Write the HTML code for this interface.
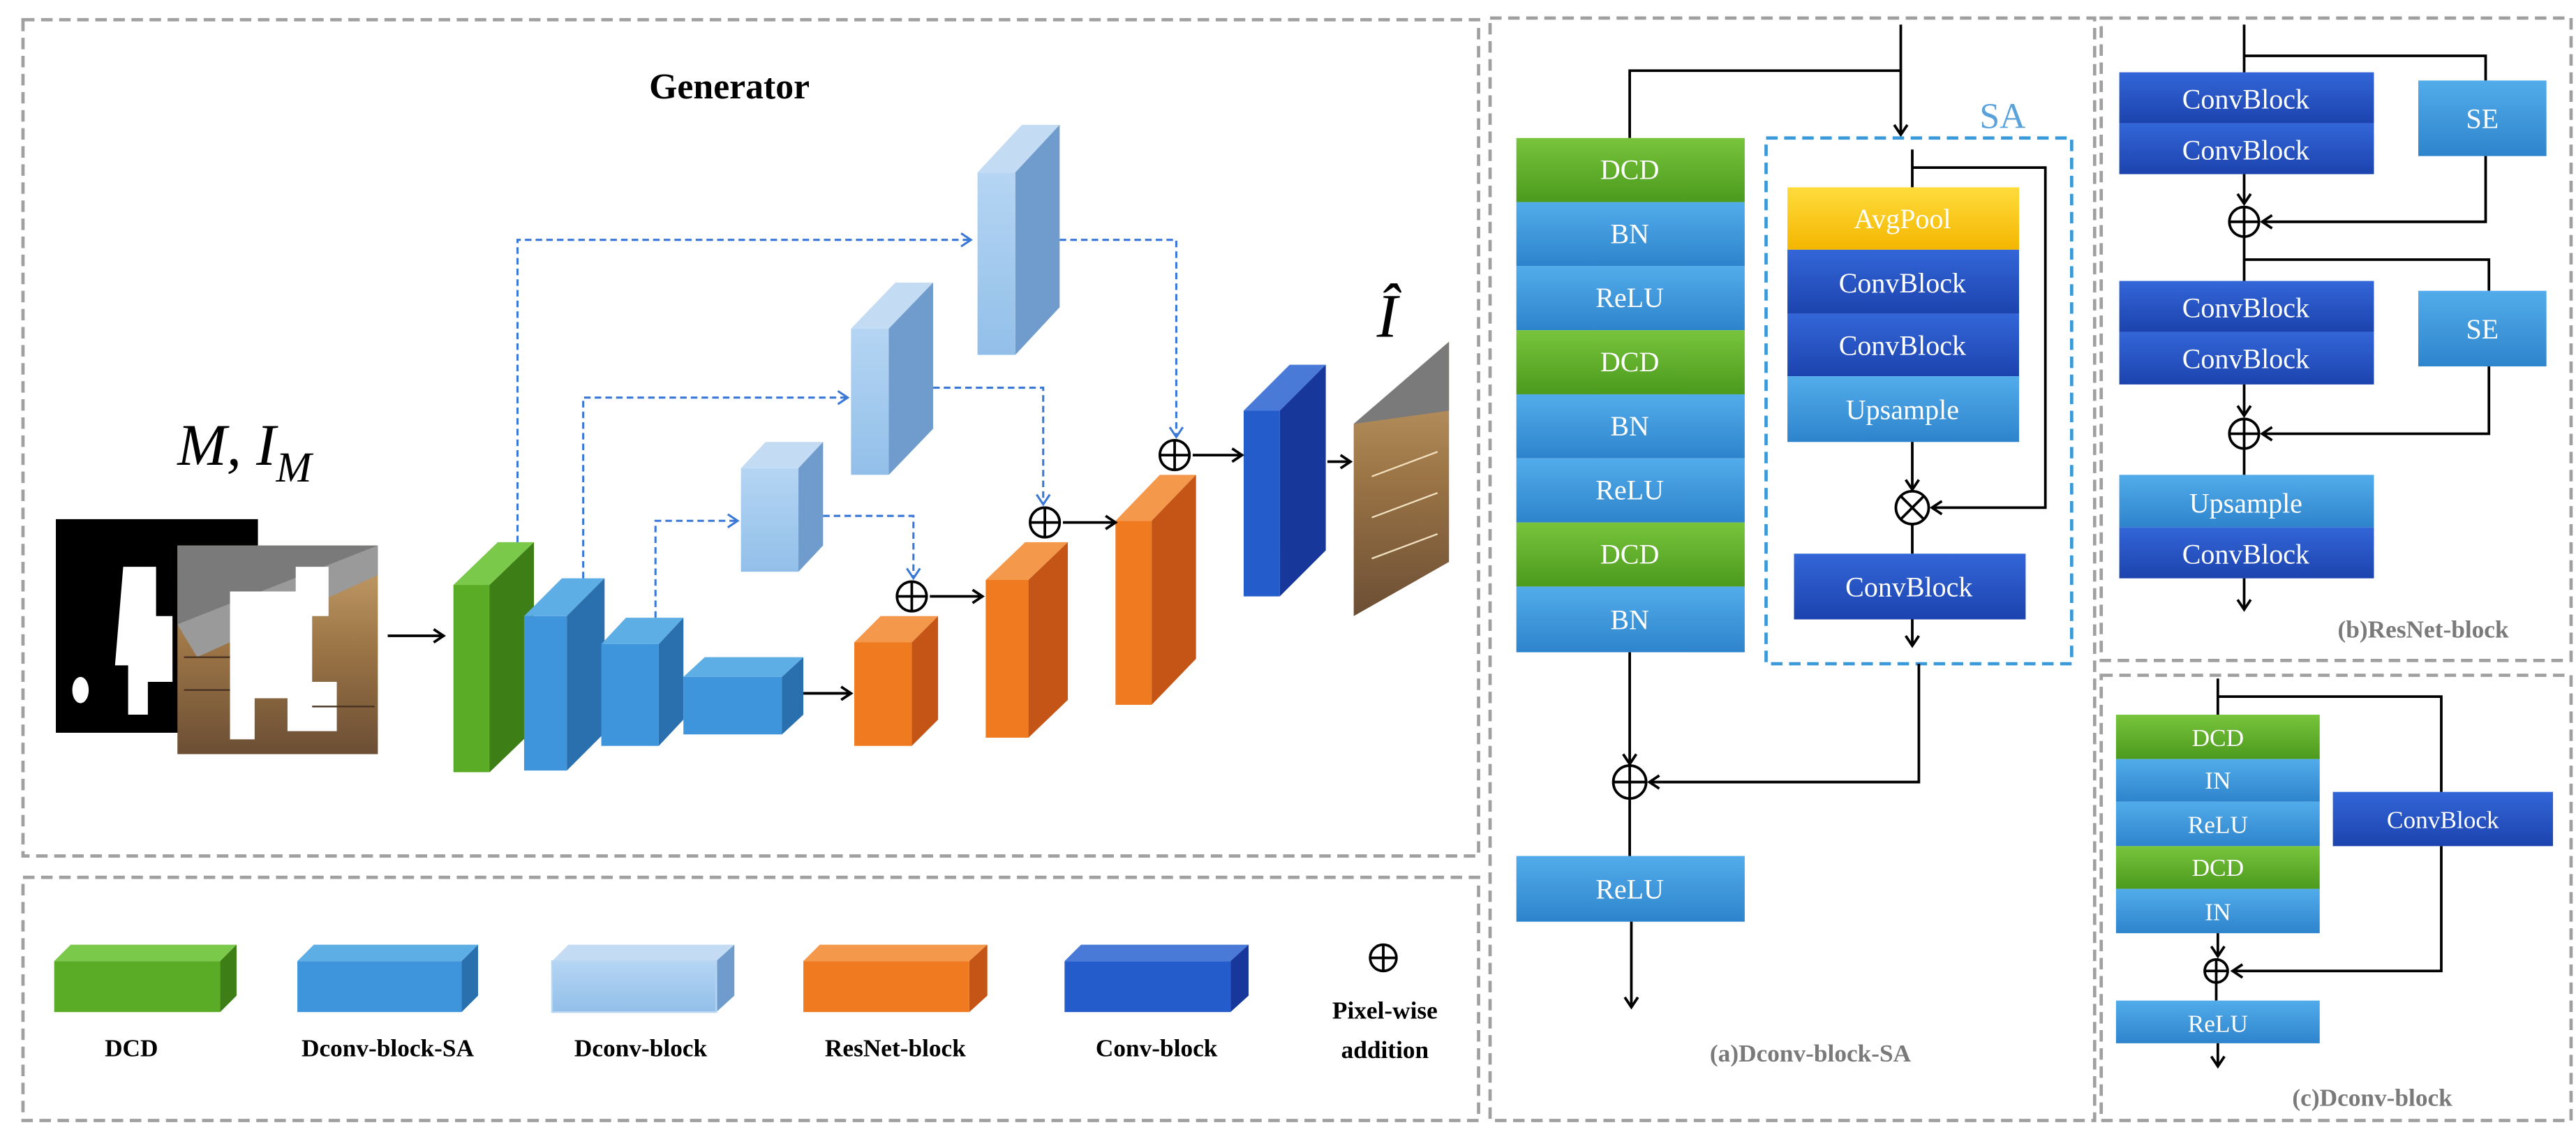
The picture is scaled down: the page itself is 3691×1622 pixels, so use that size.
<!DOCTYPE html>
<html><head><meta charset="utf-8"><style>
html,body{margin:0;padding:0;background:#fff;}
svg{display:block;}
text{font-family:"Liberation Serif",serif;}
.w{fill:#fff;font-size:17px;text-anchor:middle;}
.wc{fill:#fff;font-size:15px;text-anchor:middle;}
.lg{fill:#000;font-size:15px;font-weight:bold;text-anchor:middle;}
.cap{fill:#7a7a7a;font-size:15px;font-weight:bold;text-anchor:middle;}
.ln{stroke:#000;stroke-width:1.6;fill:none;}
.dl{stroke:#3a78d8;stroke-width:1.3;fill:none;stroke-dasharray:4 2.5;}
.box{fill:none;stroke:#a0a0a0;stroke-width:2;stroke-dasharray:7 4;}
</style></head><body>
<svg width="3691" height="1622" viewBox="0 0 1568 689" preserveAspectRatio="none" xmlns="http://www.w3.org/2000/svg">
<defs>
<linearGradient id="gG" x1="0" y1="0" x2="0" y2="1"><stop offset="0" stop-color="#78c43c"/><stop offset="1" stop-color="#4c9a1e"/></linearGradient>
<linearGradient id="gB" x1="0" y1="0" x2="0" y2="1"><stop offset="0" stop-color="#52acea"/><stop offset="1" stop-color="#2e84cc"/></linearGradient>
<linearGradient id="gD" x1="0" y1="0" x2="0" y2="1"><stop offset="0" stop-color="#3366d8"/><stop offset="1" stop-color="#1c43ae"/></linearGradient>
<linearGradient id="gY" x1="0" y1="0" x2="0" y2="1"><stop offset="0" stop-color="#ffdc3c"/><stop offset="1" stop-color="#f4b600"/></linearGradient>
<linearGradient id="gL" x1="0" y1="0" x2="0" y2="1"><stop offset="0" stop-color="#b5d5f3"/><stop offset="1" stop-color="#92bfe9"/></linearGradient>
<linearGradient id="gP" x1="0" y1="0" x2="0" y2="1"><stop offset="0" stop-color="#c8a26c"/><stop offset="0.5" stop-color="#9b7446"/><stop offset="1" stop-color="#6b4e34"/></linearGradient>
<marker id="ak" markerWidth="10" markerHeight="10" refX="7" refY="5" orient="auto" markerUnits="userSpaceOnUse"><path d="M1,1 L7,5 L1,9" fill="none" stroke="#000" stroke-width="1.6"/></marker>
<marker id="ab" markerWidth="10" markerHeight="10" refX="7" refY="5" orient="auto" markerUnits="userSpaceOnUse"><path d="M1,1 L7,5 L1,9" fill="none" stroke="#3a78d8" stroke-width="1.3"/></marker>
</defs>

<rect class="box" x="14" y="12" width="886" height="509"/>
<rect class="box" x="14" y="534" width="886" height="148"/>
<rect class="box" x="907" y="11" width="368" height="671"/>
<rect class="box" x="1279" y="11" width="286" height="391"/>
<rect class="box" x="1279" y="411" width="286" height="271"/>

<text x="444" y="60" font-size="22" font-weight="bold" text-anchor="middle">Generator</text>
<text x="108" y="283" font-size="36" font-style="italic">M, I</text>
<text x="168" y="293" font-size="26" font-style="italic">M</text>
<text x="838" y="205" font-size="38" font-style="italic">Î</text>

<rect x="34" y="316" width="123" height="130" fill="#000"/>
<path d="M75,345 h20 v30 h10 v40 h-15 v20 h-12 v-30 h-8 z" fill="#fff"/>
<ellipse cx="49" cy="420" rx="5" ry="8" fill="#fff"/>
<rect x="108" y="332" width="122" height="127" fill="url(#gP)"/>
<polygon points="108,332 230,332 108,380" fill="#7a7a7a"/>
<polygon points="108,380 230,332 230,350 120,400" fill="#9a9a9a"/>
<path d="M140,360 h40 v-15 h20 v30 h-10 v40 h15 v30 h-30 v-20 h-20 v25 h-15 z" fill="#fff"/>
<g stroke="#4a3220" stroke-width="1"><line x1="112" y1="400" x2="140" y2="400"/><line x1="112" y1="420" x2="140" y2="420"/><line x1="190" y1="430" x2="228" y2="430"/></g>
<line class="ln" x1="236" y1="387" x2="270" y2="387" marker-end="url(#ak)"/>

<g>
<polygon points="276,356 303,330 325,330 298,356" fill="#7bc94a"/>
<polygon points="298,356 325,330 325,444 298,470" fill="#3d7e16"/>
<rect x="276" y="356" width="22" height="114" fill="#5aab26"/>
<polygon points="319,375 342,352 368,352 345,375" fill="#5eaee6"/>
<polygon points="345,375 368,352 368,446 345,469" fill="#2a6fae"/>
<rect x="319" y="375" width="26" height="94" fill="#3f95db"/>
<polygon points="366,392 381,376 416,376 401,392" fill="#5eaee6"/>
<polygon points="401,392 416,376 416,438 401,454" fill="#2a6fae"/>
<rect x="366" y="392" width="35" height="62" fill="#3f95db"/>
<polygon points="416,412 429,400 489,400 476,412" fill="#5eaee6"/>
<polygon points="476,412 489,400 489,435 476,447" fill="#2a6fae"/>
<rect x="416" y="412" width="60" height="35" fill="#3f95db"/>
<polygon points="451,285 466,269 501,269 486,285" fill="#c3dcf4"/>
<polygon points="486,285 501,269 501,332 486,348" fill="#6f9ccc"/>
<rect x="451" y="285" width="35" height="63" fill="url(#gL)"/>
<polygon points="518,200 545,172 568,172 541,200" fill="#c3dcf4"/>
<polygon points="541,200 568,172 568,261 541,289" fill="#6f9ccc"/>
<rect x="518" y="200" width="23" height="89" fill="url(#gL)"/>
<polygon points="595,105 622,76 645,76 618,105" fill="#c3dcf4"/>
<polygon points="618,105 645,76 645,187 618,216" fill="#6f9ccc"/>
<rect x="595" y="105" width="23" height="111" fill="url(#gL)"/>
<polygon points="520,391 536,375 571,375 555,391" fill="#f4984c"/>
<polygon points="555,391 571,375 571,438 555,454" fill="#c55516"/>
<rect x="520" y="391" width="35" height="63" fill="#ef7a20"/>
<polygon points="600,353 624,330 650,330 626,353" fill="#f4984c"/>
<polygon points="626,353 650,330 650,426 626,449" fill="#c55516"/>
<rect x="600" y="353" width="26" height="96" fill="#ef7a20"/>
<polygon points="679,317 706,289 728,289 701,317" fill="#f4984c"/>
<polygon points="701,317 728,289 728,401 701,429" fill="#c55516"/>
<rect x="679" y="317" width="22" height="112" fill="#ef7a20"/>
<polygon points="757,250 785,222 807,222 779,250" fill="#4a7ad8"/>
<polygon points="779,250 807,222 807,335 779,363" fill="#17379a"/>
<rect x="757" y="250" width="22" height="113" fill="#255ccc"/>
</g>

<polygon points="824,258 882,208 882,342 824,375" fill="url(#gP)"/>
<polygon points="824,258 882,208 882,250" fill="#7a7a7a"/>
<g stroke="#f0e0c0" stroke-width="1"><line x1="835" y1="290" x2="875" y2="275"/><line x1="835" y1="315" x2="875" y2="300"/><line x1="835" y1="340" x2="875" y2="325"/></g>

<line class="ln" x1="489" y1="422" x2="518" y2="422" marker-end="url(#ak)"/>
<line class="ln" x1="566" y1="363" x2="598" y2="363" marker-end="url(#ak)"/>
<line class="ln" x1="647" y1="318" x2="679" y2="318" marker-end="url(#ak)"/>
<line class="ln" x1="726" y1="277" x2="756" y2="277" marker-end="url(#ak)"/>
<line class="ln" x1="808" y1="281" x2="822" y2="281" marker-end="url(#ak)"/>
<g class="ln" stroke-width="1.8">
<circle cx="555" cy="363" r="9" fill="#fff"/><line x1="546" y1="363" x2="564" y2="363"/><line x1="555" y1="354" x2="555" y2="372"/>
<circle cx="636" cy="318" r="9" fill="#fff"/><line x1="627" y1="318" x2="645" y2="318"/><line x1="636" y1="309" x2="636" y2="327"/>
<circle cx="715" cy="277" r="9" fill="#fff"/><line x1="706" y1="277" x2="724" y2="277"/><line x1="715" y1="268" x2="715" y2="286"/>
</g>

<polyline class="dl" points="315,330 315,146 591,146" marker-end="url(#ab)"/>
<polyline class="dl" points="645,146 716,146 716,266" marker-end="url(#ab)"/>
<polyline class="dl" points="355,352 355,242 516,242" marker-end="url(#ab)"/>
<polyline class="dl" points="568,236 635,236 635,307" marker-end="url(#ab)"/>
<polyline class="dl" points="399,376 399,317 449,317" marker-end="url(#ab)"/>
<polyline class="dl" points="501,314 556,314 556,352" marker-end="url(#ab)"/>

<polygon points="33,585 43,575 144,575 134,585" fill="#7bc94a"/><polygon points="134,585 144,575 144,606 134,616" fill="#3d7e16"/><rect x="33" y="585" width="101" height="31" fill="#5aab26"/>
<polygon points="181,585 191,575 291,575 281,585" fill="#5eaee6"/><polygon points="281,585 291,575 291,606 281,616" fill="#2a6fae"/><rect x="181" y="585" width="100" height="31" fill="#3f95db"/>
<polygon points="336,585 346,575 447,575 436,585" fill="#c3dcf4"/><polygon points="436,585 447,575 447,606 436,616" fill="#6f9ccc"/><rect x="336" y="585" width="100" height="31" fill="url(#gL)" stroke="#b8d6f2"/>
<polygon points="489,585 499,575 601,575 590,585" fill="#f4984c"/><polygon points="590,585 601,575 601,606 590,616" fill="#c55516"/><rect x="489" y="585" width="101" height="31" fill="#ef7a20"/>
<polygon points="648,585 658,575 760,575 749,585" fill="#4a7ad8"/><polygon points="749,585 760,575 760,606 749,616" fill="#17379a"/><rect x="648" y="585" width="101" height="31" fill="#255ccc"/>
<text class="lg" x="80" y="643">DCD</text>
<text class="lg" x="236" y="643">Dconv-block-SA</text>
<text class="lg" x="390" y="643">Dconv-block</text>
<text class="lg" x="545" y="643">ResNet-block</text>
<text class="lg" x="704" y="643">Conv-block</text>
<g class="ln" stroke-width="1.6"><circle cx="842" cy="583" r="8" fill="#fff"/><line x1="834" y1="583" x2="850" y2="583"/><line x1="842" y1="575" x2="842" y2="591"/></g>
<text class="lg" x="843" y="620">Pixel-wise</text>
<text class="lg" x="843" y="644">addition</text>

<!-- Panel (a) -->
<polyline class="ln" points="1157,15 1157,82" marker-end="url(#ak)"/>
<polyline class="ln" points="1157,43 992,43 992,84"/>
<rect x="923" y="84" width="139" height="39" fill="url(#gG)"/>
<rect x="923" y="123" width="139" height="39" fill="url(#gB)"/>
<rect x="923" y="162" width="139" height="39" fill="url(#gB)"/>
<rect x="923" y="201" width="139" height="39" fill="url(#gG)"/>
<rect x="923" y="240" width="139" height="39" fill="url(#gB)"/>
<rect x="923" y="279" width="139" height="39" fill="url(#gB)"/>
<rect x="923" y="318" width="139" height="39" fill="url(#gG)"/>
<rect x="923" y="357" width="139" height="40" fill="url(#gB)"/>
<text class="w" x="992" y="109">DCD</text>
<text class="w" x="992" y="148">BN</text>
<text class="w" x="992" y="187">ReLU</text>
<text class="w" x="992" y="226">DCD</text>
<text class="w" x="992" y="265">BN</text>
<text class="w" x="992" y="304">ReLU</text>
<text class="w" x="992" y="343">DCD</text>
<text class="w" x="992" y="383">BN</text>
<rect x="1075" y="84" width="186" height="320" fill="none" stroke="#3a9ad9" stroke-width="2" stroke-dasharray="7 4"/>
<text x="1219" y="78" font-size="22" fill="#5aa2dc" text-anchor="middle">SA</text>
<polyline class="ln" points="1164,91 1164,114"/>
<polyline class="ln" points="1164,102 1245,102 1245,309 1176,309" marker-end="url(#ak)"/>
<rect x="1088" y="114" width="141" height="38" fill="url(#gY)"/>
<rect x="1088" y="152" width="141" height="39" fill="url(#gD)"/>
<rect x="1088" y="191" width="141" height="38" fill="url(#gD)"/>
<rect x="1088" y="229" width="141" height="40" fill="url(#gB)"/>
<text class="w" x="1158" y="139">AvgPool</text>
<text class="w" x="1158" y="178">ConvBlock</text>
<text class="w" x="1158" y="216">ConvBlock</text>
<text class="w" x="1158" y="255">Upsample</text>
<line class="ln" x1="1164" y1="269" x2="1164" y2="298" marker-end="url(#ak)"/>
<g class="ln" stroke-width="1.8"><circle cx="1164" cy="309" r="10" fill="#fff"/><line x1="1157" y1="302" x2="1171" y2="316"/><line x1="1171" y1="302" x2="1157" y2="316"/></g>
<line class="ln" x1="1164" y1="319" x2="1164" y2="337"/>
<rect x="1092" y="337" width="141" height="40" fill="url(#gD)"/>
<text class="w" x="1162" y="363">ConvBlock</text>
<line class="ln" x1="1164" y1="377" x2="1164" y2="393" marker-end="url(#ak)"/>
<polyline class="ln" points="1168,404 1168,476 1004,476" marker-end="url(#ak)"/>
<line class="ln" x1="992" y1="397" x2="992" y2="465" marker-end="url(#ak)"/>
<g class="ln" stroke-width="1.8"><circle cx="992" cy="476" r="10" fill="#fff"/><line x1="982" y1="476" x2="1002" y2="476"/><line x1="992" y1="466" x2="992" y2="486"/></g>
<line class="ln" x1="992" y1="486" x2="992" y2="521"/>
<rect x="923" y="521" width="139" height="40" fill="url(#gB)"/>
<text class="w" x="992" y="547">ReLU</text>
<line class="ln" x1="993" y1="561" x2="993" y2="613" marker-end="url(#ak)"/>
<text class="cap" x="1102" y="646">(a)Dconv-block-SA</text>

<!-- Panel (b) -->
<polyline class="ln" points="1366,15 1366,44"/>
<polyline class="ln" points="1366,34 1513,34 1513,49"/>
<rect x="1290" y="44" width="155" height="31" fill="url(#gD)"/>
<rect x="1290" y="75" width="155" height="31" fill="url(#gD)"/>
<text class="w" x="1367" y="66">ConvBlock</text>
<text class="w" x="1367" y="97">ConvBlock</text>
<rect x="1472" y="49" width="78" height="46" fill="url(#gB)"/>
<text class="w" x="1511" y="78">SE</text>
<line class="ln" x1="1366" y1="106" x2="1366" y2="124" marker-end="url(#ak)"/>
<polyline class="ln" points="1513,95 1513,135 1377,135" marker-end="url(#ak)"/>
<g class="ln" stroke-width="1.8"><circle cx="1366" cy="135" r="9" fill="#fff"/><line x1="1357" y1="135" x2="1375" y2="135"/><line x1="1366" y1="126" x2="1366" y2="144"/></g>
<polyline class="ln" points="1366,144 1366,171"/>
<polyline class="ln" points="1366,158 1515,158 1515,177"/>
<rect x="1290" y="171" width="155" height="31" fill="url(#gD)"/>
<rect x="1290" y="202" width="155" height="32" fill="url(#gD)"/>
<text class="w" x="1367" y="193">ConvBlock</text>
<text class="w" x="1367" y="224">ConvBlock</text>
<rect x="1472" y="177" width="78" height="46" fill="url(#gB)"/>
<text class="w" x="1511" y="206">SE</text>
<line class="ln" x1="1366" y1="234" x2="1366" y2="253" marker-end="url(#ak)"/>
<polyline class="ln" points="1515,223 1515,264 1377,264" marker-end="url(#ak)"/>
<g class="ln" stroke-width="1.8"><circle cx="1366" cy="264" r="9" fill="#fff"/><line x1="1357" y1="264" x2="1375" y2="264"/><line x1="1366" y1="255" x2="1366" y2="273"/></g>
<line class="ln" x1="1366" y1="273" x2="1366" y2="289"/>
<rect x="1290" y="289" width="155" height="32" fill="url(#gB)"/>
<rect x="1290" y="321" width="155" height="31" fill="url(#gD)"/>
<text class="w" x="1367" y="312">Upsample</text>
<text class="w" x="1367" y="343">ConvBlock</text>
<line class="ln" x1="1366" y1="352" x2="1366" y2="371" marker-end="url(#ak)"/>
<text class="cap" x="1475" y="388">(b)ResNet-block</text>

<!-- Panel (c) -->
<polyline class="ln" points="1350,413 1350,435"/>
<polyline class="ln" points="1350,424 1486,424 1486,482"/>
<rect x="1288" y="435" width="124" height="27" fill="url(#gG)"/>
<rect x="1288" y="462" width="124" height="26" fill="url(#gB)"/>
<rect x="1288" y="488" width="124" height="27" fill="url(#gB)"/>
<rect x="1288" y="515" width="124" height="26" fill="url(#gG)"/>
<rect x="1288" y="541" width="124" height="27" fill="url(#gB)"/>
<text class="wc" x="1350" y="454">DCD</text>
<text class="wc" x="1350" y="480">IN</text>
<text class="wc" x="1350" y="507">ReLU</text>
<text class="wc" x="1350" y="533">DCD</text>
<text class="wc" x="1350" y="560">IN</text>
<rect x="1420" y="482" width="134" height="33" fill="url(#gD)"/>
<text class="wc" x="1487" y="504">ConvBlock</text>
<line class="ln" x1="1350" y1="568" x2="1350" y2="582" marker-end="url(#ak)"/>
<polyline class="ln" points="1486,515 1486,591 1359,591" marker-end="url(#ak)"/>
<g class="ln" stroke-width="1.6"><circle cx="1349" cy="591" r="7" fill="#fff"/><line x1="1342" y1="591" x2="1356" y2="591"/><line x1="1349" y1="584" x2="1349" y2="598"/></g>
<line class="ln" x1="1349" y1="598" x2="1349" y2="609"/>
<rect x="1288" y="609" width="124" height="26" fill="url(#gB)"/>
<text class="wc" x="1350" y="628">ReLU</text>
<line class="ln" x1="1350" y1="635" x2="1350" y2="649" marker-end="url(#ak)"/>
<text class="cap" x="1444" y="673">(c)Dconv-block</text>
</svg>
</body></html>
